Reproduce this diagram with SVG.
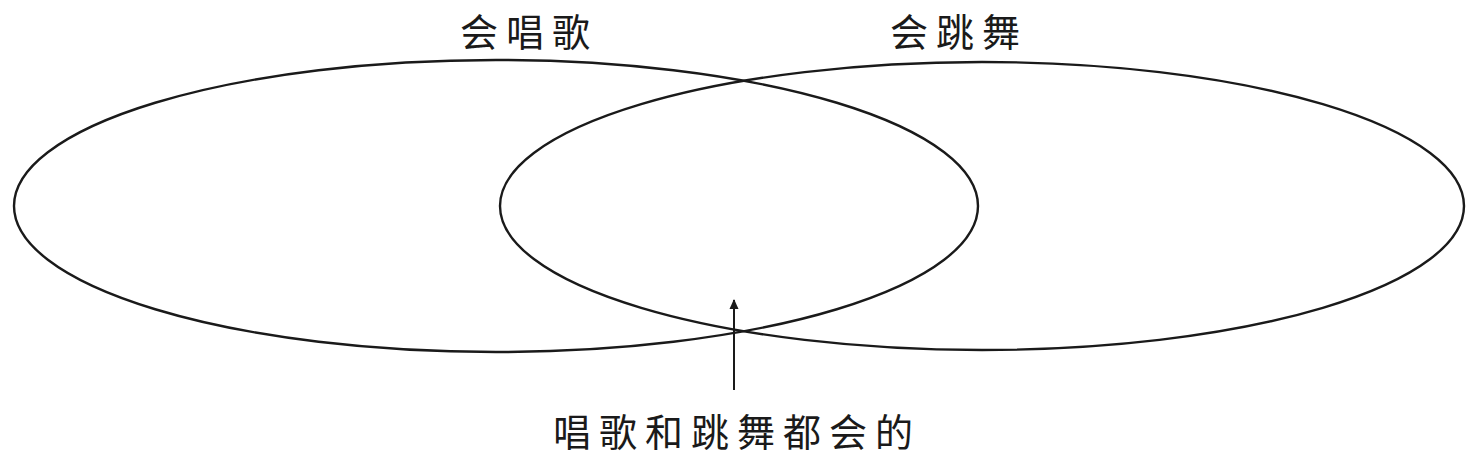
<svg xmlns="http://www.w3.org/2000/svg" width="1476" height="459" viewBox="0 0 1476 459">
<defs>
<style>
.ell{fill:none;stroke:#1a1a1a;stroke-width:2.4}
.lbl{font-family:"Noto Sans CJK SC","Noto Sans",sans-serif;font-size:38px;fill:#1a1a1a;letter-spacing:8px}
.conn{stroke:#1a1a1a;stroke-width:2;fill:none}
</style>
<marker id="arr" viewBox="0 0 10 10" refX="9" refY="5" markerWidth="12" markerHeight="10" markerUnits="userSpaceOnUse" orient="auto">
<path d="M0,0.5 L10,5 L0,9.5 Z" fill="#1a1a1a"/>
</marker>
</defs>
<rect width="1476" height="459" fill="#ffffff"/>
<g id="sing">
<ellipse class="ell" cx="496" cy="206" rx="482" ry="146"/>
<text class="lbl" x="529" y="46" text-anchor="middle">会唱歌</text>
</g>
<g id="dance">
<ellipse class="ell" cx="982" cy="206" rx="482" ry="144"/>
<text class="lbl" x="959" y="46" text-anchor="middle">会跳舞</text>
</g>
<g id="both">
<text class="lbl" x="737" y="446" text-anchor="middle">唱歌和跳舞都会的</text>
</g>
<g id="connectors">
<line class="conn" x1="734" y1="390" x2="734" y2="300" marker-end="url(#arr)"/>
</g>
</svg>
